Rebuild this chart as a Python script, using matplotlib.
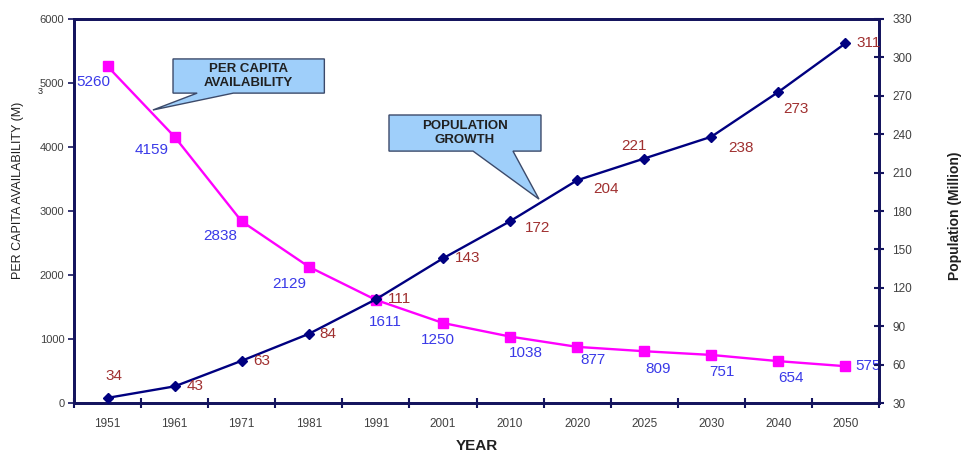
import matplotlib
matplotlib.use("Agg")
import matplotlib.pyplot as plt
from matplotlib.patches import Polygon

plt.rcParams['font.family'] = ['Liberation Sans', 'DejaVu Sans']

years = ['1951', '1961', '1971', '1981', '1991', '2001', '2010', '2020', '2025', '2030', '2040', '2050']
per_capita = [5260, 4159, 2838, 2129, 1611, 1250, 1038, 877, 809, 751, 654, 575]
population = [34, 43, 63, 84, 111, 143, 172, 204, 221, 238, 273, 311]
left_ticks = [0, 1000, 2000, 3000, 4000, 5000, 6000]
right_ticks = [30, 60, 90, 120, 150, 180, 210, 240, 270, 300, 330]

# label offsets in pixels (dx, dy downward)
pc_off = [(-14, 16), (-23, 13), (-21, 15), (-20, 17), (9, 22), (-5, 17),
          (16, 16), (16, 13), (14, 18), (11, 17), (13, 17), (23, 0)]
pop_off = [(6, -22), (20, 0), (20, 0), (19, 0), (24, 0), (25, 0),
           (28, 7), (29, 9), (-10, -13), (30, 11), (18, 17), (23, 0)]

W, H = 963, 451
fig = plt.figure(figsize=(W / 100, H / 100), dpi=100)
ax = fig.add_axes([74 / W, 1 - 403 / H, 805 / W, 384 / H])
ax2 = ax.twinx()

spine_c = '#14145e'
navy = '#000080'
magenta = '#ff00ff'
pc_lab_c = '#3a3ae8'
pop_lab_c = '#a03030'
tick_c = '#404040'

x = list(range(len(years)))
ax.plot(x, per_capita, color=magenta, lw=1.7, marker='s', ms=7, zorder=3)
ax2.plot(x, population, color=navy, lw=1.7, marker='D', ms=5.5, zorder=3)

ax.set_xlim(-0.5, len(years) - 0.5)
ax.set_ylim(0, 6000)
ax2.set_ylim(30, 330)
ax.set_yticks(left_ticks)
ax2.set_yticks(right_ticks)
ax.set_xticks(x)
ax.set_xticklabels(years)
ax.set_xticks([i - 0.5 for i in range(len(years) + 1)], minor=True)
ax.tick_params(axis='x', which='major', length=0, pad=11, labelsize=8.5, labelcolor=tick_c)
ax.tick_params(axis='x', which='minor', direction='inout', length=7, width=1.5, color=spine_c)
ax.tick_params(axis='y', direction='out', length=4, width=1.2, color=spine_c, labelsize=8, labelcolor=tick_c, pad=3)
ax2.tick_params(axis='y', direction='inout', length=7, width=1.5, color=spine_c, labelsize=8.5, labelcolor=tick_c, pad=6)

for a in (ax, ax2):
    for s in a.spines.values():
        s.set_color(spine_c)
        s.set_linewidth(2)

for i, v in enumerate(per_capita):
    dx, dy = pc_off[i]
    ax.annotate(str(v), (i, v), xytext=(dx * 0.72, -dy * 0.72), textcoords='offset points',
                ha='center', va='center', fontsize=11, color=pc_lab_c, zorder=5)
for i, v in enumerate(population):
    dx, dy = pop_off[i]
    ax2.annotate(str(v), (i, v), xytext=(dx * 0.72, -dy * 0.72), textcoords='offset points',
                 ha='center', va='center', fontsize=11, color=pop_lab_c, zorder=5)

ax.set_xlabel('YEAR', fontsize=11, fontweight='bold', color='#202020', labelpad=6)
fig.text(18 / W, 1 - 190 / H, 'PER CAPITA AVAILABILITY (M)', rotation=90, ha='center', va='center',
         fontsize=9, color='#202020')
fig.text(40 / W, 1 - 92 / H, '3', ha='center', va='center', fontsize=6.5, color='#202020')
fig.text(955 / W, 1 - 216 / H, 'Population (Million)', rotation=90, ha='center', va='center',
         fontsize=10, fontweight='bold', color='#202020')


def callout(x0, x1, y0, y1, b1, b2, tip, text):
    pts = [(x0, y1), (x1, y1), (x1, y0), (b2, y0), tip, (b1, y0), (x0, y0)]
    poly = Polygon(pts, closed=True, transform=ax2.transAxes, facecolor='#9fcffa',
                   edgecolor='#3c4a6a', lw=1.0, zorder=6, clip_on=False)
    ax2.add_patch(poly)
    ax2.text((x0 + x1) / 2, (y0 + y1) / 2, text, transform=ax2.transAxes, ha='center', va='center',
             fontsize=9.5, fontweight='bold', color='#202020', zorder=7, linespacing=1.3)


callout(0.123, 0.311, 0.807, 0.896, 0.153, 0.198, (0.098, 0.763), 'PER CAPITA\nAVAILABILITY')
callout(0.3913, 0.5801, 0.656, 0.750, 0.4957, 0.5453, (0.5776, 0.531), 'POPULATION\nGROWTH')

fig.savefig('out.png', dpi=100)
